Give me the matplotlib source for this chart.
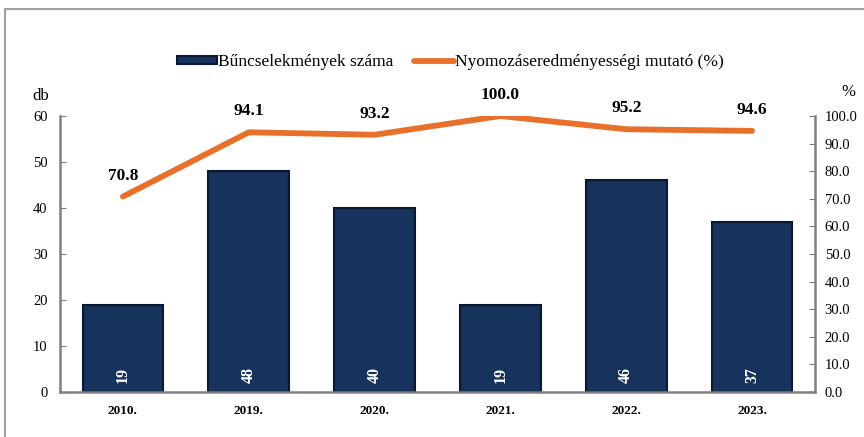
import matplotlib
matplotlib.use("Agg")
import matplotlib.pyplot as plt
from matplotlib.patches import Rectangle

categories = ["2010.", "2019.", "2020.", "2021.", "2022.", "2023."]
crimes = [19, 48, 40, 19, 46, 37]
rate = [70.8, 94.1, 93.2, 100.0, 95.2, 94.6]
left_ticks = [0, 10, 20, 30, 40, 50, 60]
right_ticks = [0, 10, 20, 30, 40, 50, 60, 70, 80, 90, 100]

plt.rcParams['font.family'] = ['Liberation Serif', 'DejaVu Serif']

fig = plt.figure(figsize=(8.64, 4.37), dpi=100)
ax = fig.add_axes([60/864, 1-392/437, 755/864, 276/437])
ax2 = ax.twinx()

bar_color = "#17325c"
line_color = "#e8702a"
spine_color = "#808080"

x = list(range(len(categories)))
ax.bar(x, crimes, width=0.64, color=bar_color, edgecolor="#0a1830", linewidth=1.5, zorder=2,
       label="Bűncselekmények száma")
for xi, v in zip(x, crimes):
    ax.text(xi, 2.0, f"{v}", rotation=90, ha="center", va="bottom", color="white",
            fontsize=11.5, fontweight="bold", zorder=3)

ax.set_xlim(-0.5, len(categories) - 0.5)
ax.set_ylim(0, 60)
ax.set_yticks(left_ticks)
ax.set_xticks(x)
ax.set_xticklabels(categories, fontsize=9.5, fontweight="bold")
ax.tick_params(axis="x", length=0, pad=9)
ax.tick_params(axis="y", direction="in", length=4, color=spine_color, labelsize=10.5, pad=9)

ax2.plot(x, rate, color=line_color, linewidth=4.2, solid_capstyle="round", zorder=4,
         label="Nyomozáseredményességi mutató (%)")
ax2.set_ylim(0, 100)
ax2.set_yticks(right_ticks)
ax2.set_yticklabels([f"{t:.1f}" for t in right_ticks])
ax2.tick_params(axis="y", direction="in", length=4, color=spine_color, labelsize=10.5, pad=7)
for xi, v in zip(x, rate):
    ax2.text(xi, v + 7.6, f"{v:.1f}", ha="center", va="center", fontsize=12.5, fontweight="bold")

for a in (ax, ax2):
    a.spines["top"].set_visible(False)
    for s in ("left", "right", "bottom"):
        a.spines[s].set_color(spine_color)
        a.spines[s].set_linewidth(1.8)
ax.spines["right"].set_visible(False)
ax2.spines["left"].set_visible(False)
ax2.spines["bottom"].set_visible(False)
ax2.patch.set_visible(False)

fig.text(41/864, 1-96/437, "db", fontsize=12, ha="center", va="center")
fig.text(848/864, 1-92/437, "%", fontsize=12, ha="center", va="center")

h1, l1 = ax.get_legend_handles_labels()
h2, l2 = ax2.get_legend_handles_labels()
fig.legend(h1 + h2, l1 + l2, loc="center", bbox_to_anchor=(450/864, 1-62/437), ncol=2,
           frameon=False, fontsize=12.5, handlelength=2.3, handleheight=0.35,
           handletextpad=0.05, columnspacing=1.2)

fig.patches.append(Rectangle((5/864, -0.1), 1.0, 1 - 9/437 + 0.1, transform=fig.transFigure,
                             fill=False, edgecolor="#a0a0a0", linewidth=1.5))

fig.savefig("out.png", dpi=100)
